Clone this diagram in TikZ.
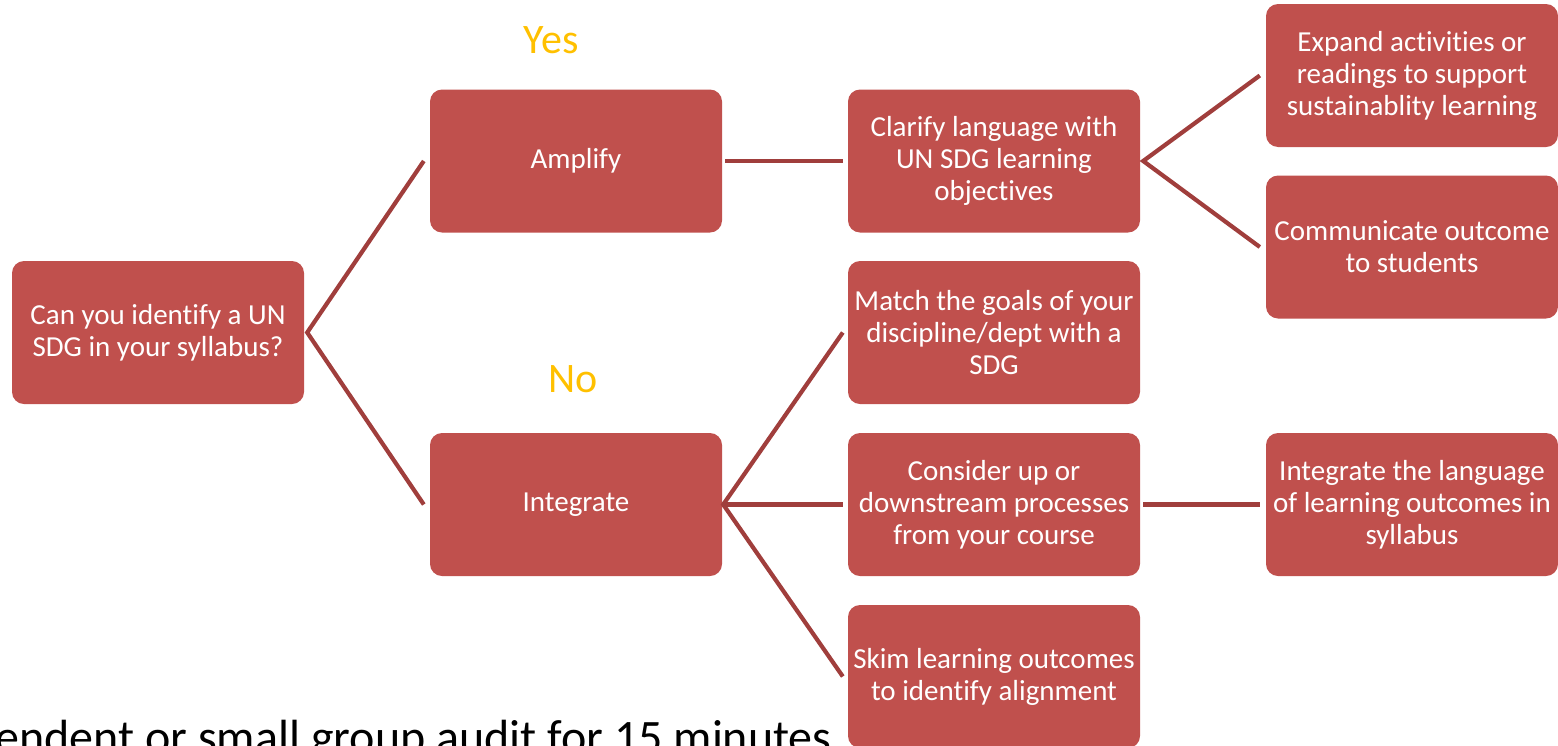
\documentclass[tikz,border=0pt]{standalone}
\usepackage{fontspec}
\setmainfont{Carlito}[Ligatures=NoCommon]
\definecolor{boxred}{RGB}{192,80,77}
\definecolor{linkred}{RGB}{160,62,60}
\definecolor{answer}{RGB}{255,192,0}
\begin{document}
\begin{tikzpicture}[x=1pt,y=-1pt,
  stepbox/.style={fill=boxred, rounded corners=12pt, minimum width=292pt,
    minimum height=143pt, inner sep=4pt, align=center, text=white,
    font=\fontsize{29}{32}\selectfont},
  link/.style={draw=linkred, line width=4.2pt, line join=miter},
  answertext/.style={text=answer, font=\fontsize{42}{46}\selectfont, anchor=base}]
\useasboundingbox (0,0) rectangle (1558,745);
\clip (0,0) rectangle (1558,745);

% decision boxes
\node[stepbox] (q)      at (158,332.5)  {Can you identify a UN\\SDG in your syllabus?};
\node[stepbox] (amp)    at (576,161)    {Amplify};
\node[stepbox] (intg)   at (576,504.5)  {Integrate};
\node[stepbox] (clar)   at (994,161)    {Clarify language with\\UN SDG learning\\objectives};
\node[stepbox] (match)  at (994,332.5)  {Match the goals of your\\discipline/dept with a\\SDG};
\node[stepbox] (cons)   at (994,504.5)  {Consider up or\\downstream processes\\from your course};
\node[stepbox] (skim)   at (994,676.5)  {Skim learning outcomes\\to identify alignment};
\node[stepbox] (expand) at (1412,75.5)  {Expand activities or\\readings to support\\sustainablity learning};
\node[stepbox] (comm)   at (1412,247)   {Communicate outcome\\to students};
\node[stepbox] (lang)   at (1412,504.5) {Integrate the language\\of learning outcomes in\\syllabus};

% branch labels
\node[answertext] (yes) at (551,53)  {Yes};
\node[answertext] (no)  at (573,392) {No};

% connectors
\draw[link] ([xshift=-6pt]amp.west) -- ([xshift=3pt]q.east) -- ([xshift=-6pt]intg.west);
\draw[link] ([xshift=3pt]amp.east) -- ([xshift=-5pt]clar.west);
\draw[link] ([xshift=-6pt]expand.west) -- ([xshift=3pt]clar.east) -- ([xshift=-6pt]comm.west);
\draw[link] ([xshift=-5pt]match.west) -- ([xshift=1pt]intg.east) -- ([xshift=-5pt]skim.west);
\draw[link] ([xshift=1pt]intg.east) -- ([xshift=-5pt]cons.west);
\draw[link] ([xshift=3pt]cons.east) -- ([xshift=-6pt]lang.west);

% caption line running off the page
\node[anchor=base east, inner sep=0pt, font=\fontsize{48}{52}\selectfont] (note) at (832,753)
  {endent or small group audit for 15 minutes};
\end{tikzpicture}
\end{document}
